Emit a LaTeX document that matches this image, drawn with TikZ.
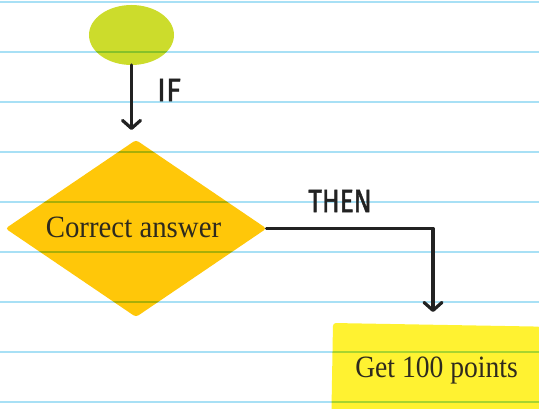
\documentclass[tikz,border=0pt]{standalone}
\usepackage{fontspec}
\setmainfont{Liberation Serif}
\newfontfamily\handfont[BoldFont={Fira Sans},BoldFeatures={FakeBold=1.6}]{Fira Sans}
\usetikzlibrary{shapes.geometric,arrows.meta}
\definecolor{ellcol}{HTML}{CCDC2C}
\definecolor{diacol}{HTML}{FFC709}
\definecolor{boxcol}{HTML}{FFF231}
\definecolor{rulecol}{HTML}{A8E0F5}
\definecolor{inkcol}{HTML}{222222}
\definecolor{txtcol}{HTML}{2E2A1E}
\tikzset{
  rule/.style={draw=rulecol, line width=2.5pt},
  arr/.style={draw=inkcol, line width=3.2pt, line cap=round, line join=round,
    -{Straight Barb[length=8pt,width=18pt,line cap=round,line join=round]}},
  lbl/.style={text=inkcol, font=\handfont\bfseries\fontsize{32}{32}\selectfont, inner sep=0pt},
  boxtext/.style={text=txtcol, font=\fontsize{31}{32}\selectfont},
}
\begin{document}
\begin{tikzpicture}[x=1pt,y=-1pt]
\useasboundingbox (0,0) rectangle (539,409);
\clip (0,0) rectangle (539,409);
% shapes
\node[ellipse, fill=ellcol, minimum width=85pt, minimum height=60pt, inner sep=0pt, outer sep=0pt] (start) at (131.5,35) {};
\node[diamond, fill=diacol, aspect=1.47, minimum width=261pt, minimum height=177pt, inner sep=0pt, outer sep=0pt, rounded corners=3pt] (dia) at (136,228.5) {};
\node[rectangle, fill=boxcol, minimum width=208pt, minimum height=100pt, inner sep=0pt, outer sep=0pt, rounded corners=3pt, rotate=-1, anchor=north west] (box) at (333,323) {};
% ruled lines blended over shapes
\begin{scope}[blend mode=multiply]
\foreach \yy in {2,52,...,402} \draw[rule] (0,\yy) -- (539,\yy);
\end{scope}
% texts
\node[boxtext] (diatext) at (133.5,227) {\scalebox{0.93}[1]{Correct answer}};
\node[boxtext] (boxtext) at (436.5,370) {\scalebox{0.89}[1]{Get 100 points}};
\node[lbl] (iflbl) at (169,90) {\scalebox{0.95}[1]{IF}};
\node[lbl] (thenlbl) at (340,201) {\scalebox{0.82}[1]{THEN}};
% connectors
\draw[arr] (start.south) -- ([yshift=10pt]dia.north -| start.south);
\coordinate (arrend) at (433,312);
\draw[arr] (dia.east) -| (arrend);
\end{tikzpicture}
\end{document}
